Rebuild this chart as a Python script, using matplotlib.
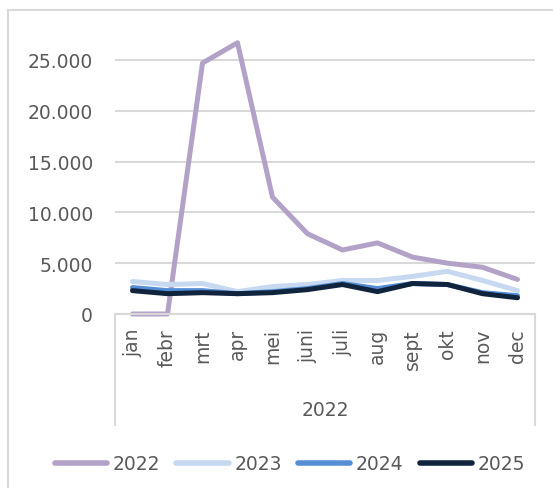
import matplotlib
matplotlib.use("Agg")
import matplotlib.pyplot as plt
from matplotlib.lines import Line2D
from matplotlib.patches import Rectangle
import numpy as np

months = ["jan", "febr", "mrt", "apr", "mei", "juni", "juli", "aug", "sept", "okt", "nov", "dec"]
group_label = "2022"
v2022 = [0, 0, 24700, 26700, 11500, 7900, 6300, 7000, 5600, 5000, 4600, 3400]
v2023 = [3200, 2900, 3000, 2200, 2700, 2900, 3300, 3300, 3700, 4200, 3300, 2300]
v2024 = [2600, 2300, 2300, 2000, 2200, 2500, 3000, 2500, 3000, 2900, 2100, 1800]
v2025 = [2300, 2000, 2100, 2000, 2100, 2400, 2900, 2200, 3000, 2900, 2000, 1600]
series_names = ["2022", "2023", "2024", "2025"]
yticks = [0, 5000, 10000, 15000, 20000, 25000]
ytick_labels = ["0", "5.000", "10.000", "15.000", "20.000", "25.000"]

colors = ["#B3A2C7", "#C6D9F0", "#558ED5", "#10243E"]
txt = "#595959"
grid = "#D9D9D9"

W, H = 553, 489
fig = plt.figure(figsize=(W / 100, H / 100), dpi=100)
plt.rcParams['font.family'] = ['DejaVu Sans']

# outer chart border
fig.patches.append(Rectangle((7.5 / W, -0.1), 1.2, 1 - 11 / H + 0.1, transform=fig.transFigure,
                             fill=False, edgecolor=grid, linewidth=1.5))

left, right = 115 / W, 535 / W
bottom = 1 - 315 / H
ymax = 28000
top_px = 315 - ymax / 5000 * 50.8
ax = fig.add_axes([left, bottom, right - left, (315 - top_px) / H])

x = np.arange(len(months))
for vals, c, n in zip([v2022, v2023, v2024, v2025], colors, series_names):
    ax.plot(x, vals, color=c, linewidth=3.6, solid_capstyle='round', solid_joinstyle='round',
            label=n, clip_on=False)

ax.set_xlim(-0.5, len(months) - 0.5)
ax.set_ylim(0, ymax)
ax.set_yticks(yticks)
ax.set_yticklabels(ytick_labels)
ax.yaxis.grid(True, color=grid, linewidth=1.5)
ax.set_axisbelow(True)
for s in ["top", "right", "left"]:
    ax.spines[s].set_visible(False)
ax.spines["bottom"].set_color(grid)
ax.spines["bottom"].set_linewidth(1.5)
ax.tick_params(axis='y', length=0, pad=16, labelsize=13.5, labelcolor=txt)
ax.set_xticks(x)
ax.set_xticklabels(months, rotation=90, va='top', ha='center')
ax.tick_params(axis='x', length=0, pad=10, labelsize=13.5, labelcolor=txt)

# category axis box lines
for xp in [left, right]:
    fig.add_artist(Line2D([xp, xp], [bottom, 1 - 426 / H], transform=fig.transFigure,
                          color=grid, linewidth=1.5))
fig.text((left + right) / 2, 1 - 411 / H, group_label, ha='center', va='center',
         fontsize=13.5, color=txt)

leg = fig.legend(loc='center', bbox_to_anchor=(290 / W, 1 - 465 / H), ncol=4, frameon=False,
                 fontsize=13.5, handlelength=2.8, handletextpad=0.3, columnspacing=0.85,
                 labelcolor=txt)
for h in leg.get_lines():
    h.set_linewidth(4.0)
    h.set_solid_capstyle('round')

fig.savefig("out.png", dpi=100)
